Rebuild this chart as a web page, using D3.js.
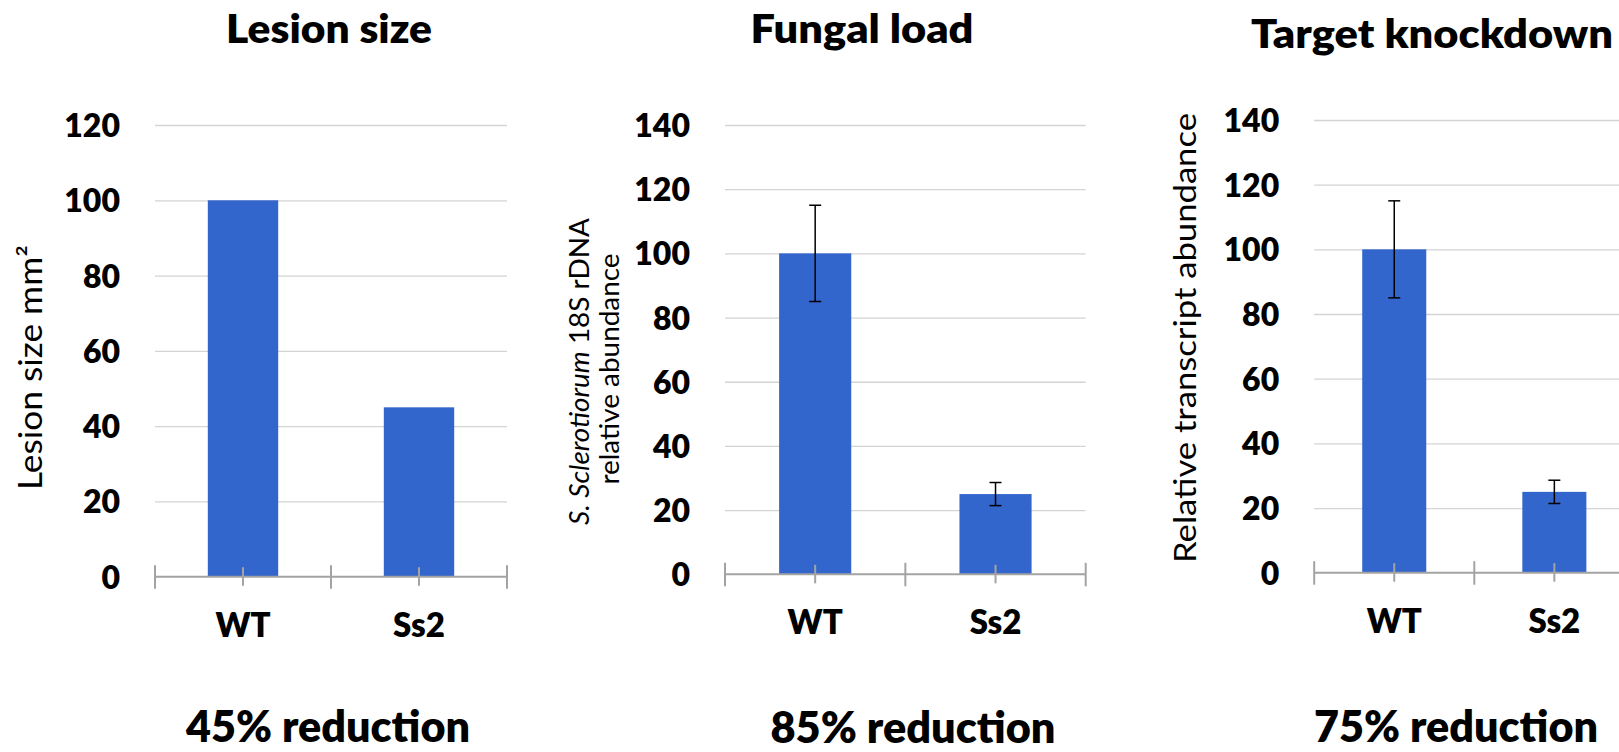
<!DOCTYPE html>
<html>
<head>
<meta charset="utf-8">
<script src="https://cdn.jsdelivr.net/npm/d3@7"></script>
<style>
  html, body { margin: 0; padding: 0; background: #fff; overflow: hidden; }
  text { font-family: Lato, "Open Sans", sans-serif; fill: #000; }
</style>
</head>
<body>
<div id="chart"></div>
<script>
// chart values
var categories = ['WT', 'Ss2'];
var lesionValues = [100, 45];
var fungalValues = [100, 25];
var fungalErrors = [15, 3.6];
var knockdownValues = [100, 25];
var knockdownErrors = [15, 3.6];
var lesionTicks = [0, 20, 40, 60, 80, 100, 120];
var abundanceTicks = [0, 20, 40, 60, 80, 100, 120, 140];
var titles = ['Lesion size', 'Fungal load', 'Target knockdown'];
var reductions = ['45% reduction', '85% reduction', '75% reduction'];

var w = 1619,
    h = 752;

var svg = d3.select('#chart')
    .append('svg')
    .attr('width', w)
    .attr('height', h);

var barColor = '#3366cc',
    gridColor = '#d4d4d4',
    axisColor = '#a3a3a3',
    heavy = 800;

// where each panel sits on the page
var panels = [
  { values: lesionValues, errors: null, ticks: lesionTicks, max: 120,
    x0: 155, x1: 507, yTop: 125, yZero: 576.7,
    title: { cx: 329, y: 42.7, len: 206 },
    bottom: { cx: 328, y: 742, len: 284 } },
  { values: fungalValues, errors: fungalErrors, ticks: abundanceTicks, max: 140,
    x0: 725, x1: 1085.7, yTop: 125, yZero: 574.3,
    title: { cx: 862, y: 42.7, len: 223 },
    bottom: { cx: 913, y: 743, len: 285 } },
  { values: knockdownValues, errors: knockdownErrors, ticks: abundanceTicks, max: 140,
    x0: 1314.2, x1: 1634.4, yTop: 120, yZero: 572.7,
    title: { cx: 1432, y: 47.7, len: 362 },
    bottom: { cx: 1456, y: 742, len: 284 } }
];

var fit = function(sel, len) {
  sel.attr('textLength', len).attr('lengthAdjust', 'spacingAndGlyphs');
};

panels.forEach(function(p, k) {
  var g = svg.append('g');

  var x = d3.scaleBand()
      .domain(categories)
      .range([p.x0, p.x1])
      .paddingInner(0.6)
      .paddingOuter(0.3);

  var y = d3.scaleLinear()
      .domain([0, p.max])
      .range([p.yZero, p.yTop]);

  // gridlines
  g.append('g')
      .attr('transform', 'translate(' + p.x0 + ',0)')
      .call(d3.axisLeft(y).tickValues(p.ticks.slice(1)).tickSize(-(p.x1 - p.x0)).tickFormat(''))
      .call(function(a) { a.select('.domain').remove(); })
      .selectAll('line')
      .attr('stroke', gridColor)
      .attr('stroke-width', 1.3);

  // tick labels
  g.append('g')
      .attr('transform', 'translate(' + p.x0 + ',0)')
      .call(d3.axisLeft(y).tickValues(p.ticks).tickSize(0).tickPadding(35))
      .call(function(a) { a.select('.domain').remove(); })
      .selectAll('text')
      .attr('dy', '0.36em')
      .style('font-size', '32px')
      .style('font-weight', heavy)
      .style('fill', '#000');

  // bars
  g.selectAll('.bar')
      .data(p.values)
      .enter()
      .append('rect')
      .attr('x', function(d, i) { return x(categories[i]); })
      .attr('width', x.bandwidth())
      .attr('y', function(d) { return y(d); })
      .attr('height', function(d) { return y(0) - y(d); })
      .attr('fill', barColor);

  // category axis
  g.append('line')
      .attr('x1', p.x0).attr('x2', p.x1)
      .attr('y1', y(0)).attr('y2', y(0))
      .attr('stroke', axisColor)
      .attr('stroke-width', 2);

  var bounds = [p.x0].concat(categories.map(function(c) { return x(c) - x.step() * 0.3 + x.step(); }));
  g.selectAll('.major')
      .data(bounds)
      .enter()
      .append('line')
      .attr('x1', function(d) { return d; })
      .attr('x2', function(d) { return d; })
      .attr('y1', y(0) - 11.5)
      .attr('y2', y(0) + 12)
      .attr('stroke', axisColor)
      .attr('stroke-width', 2);

  g.selectAll('.minor')
      .data(categories)
      .enter()
      .append('line')
      .attr('x1', function(d) { return x(d) + x.bandwidth() / 2; })
      .attr('x2', function(d) { return x(d) + x.bandwidth() / 2; })
      .attr('y1', y(0) - 9.5)
      .attr('y2', y(0) + 9)
      .attr('stroke', axisColor)
      .attr('stroke-width', 2);

  // error bars
  if (p.errors) {
    var eb = g.selectAll('.err')
        .data(p.values)
        .enter()
        .append('g');
    eb.append('line')
        .attr('x1', function(d, i) { return x(categories[i]) + x.bandwidth() / 2; })
        .attr('x2', function(d, i) { return x(categories[i]) + x.bandwidth() / 2; })
        .attr('y1', function(d, i) { return y(d + p.errors[i]); })
        .attr('y2', function(d, i) { return y(d - p.errors[i]); });
    [1, -1].forEach(function(s) {
      eb.append('line')
          .attr('x1', function(d, i) { return x(categories[i]) + x.bandwidth() / 2 - 6; })
          .attr('x2', function(d, i) { return x(categories[i]) + x.bandwidth() / 2 + 6; })
          .attr('y1', function(d, i) { return y(d + s * p.errors[i]); })
          .attr('y2', function(d, i) { return y(d + s * p.errors[i]); });
    });
    eb.selectAll('line')
        .attr('stroke', '#000')
        .attr('stroke-width', 1.5);
  }

  // category labels
  g.selectAll('.cat')
      .data(categories)
      .enter()
      .append('text')
      .attr('x', function(d) { return x(d) + x.bandwidth() / 2; })
      .attr('y', y(0) + 60)
      .attr('text-anchor', 'middle')
      .style('font-size', '33px')
      .style('font-weight', heavy)
      .text(function(d) { return d; });

  // title
  g.append('text')
      .attr('x', p.title.cx)
      .attr('y', p.title.y)
      .attr('text-anchor', 'middle')
      .style('font-size', '39px')
      .style('font-weight', heavy)
      .text(titles[k])
      .call(fit, p.title.len);

  // reduction note
  g.append('text')
      .attr('x', p.bottom.cx)
      .attr('y', p.bottom.y)
      .attr('text-anchor', 'middle')
      .style('font-size', '44px')
      .style('font-weight', heavy)
      .text(reductions[k])
      .call(fit, p.bottom.len);
});

// y axis titles
svg.append('text')
    .attr('transform', 'translate(41.5,367.5) rotate(-90)')
    .attr('text-anchor', 'middle')
    .style('font-size', '32px')
    .text('Lesion size mm\u00b2')
    .call(fit, 245);

svg.append('text')
    .attr('transform', 'translate(1196,338) rotate(-90)')
    .attr('text-anchor', 'middle')
    .style('font-size', '30px')
    .text('Relative transcript abundance')
    .call(fit, 450);

var l1 = svg.append('text')
    .attr('transform', 'translate(589,371.5) rotate(-90)')
    .attr('text-anchor', 'middle')
    .style('font-size', '28px');
l1.append('tspan').style('font-style', 'italic').text('S. Sclerotiorum');
l1.append('tspan').text(' 18S rDNA');
var fs = 28 * 307 / l1.node().getComputedTextLength();
l1.style('font-size', fs + 'px');

svg.append('text')
    .attr('transform', 'translate(619,369) rotate(-90)')
    .attr('text-anchor', 'middle')
    .style('font-size', fs + 'px')
    .text('relative abundance');
</script>
</body>
</html>
